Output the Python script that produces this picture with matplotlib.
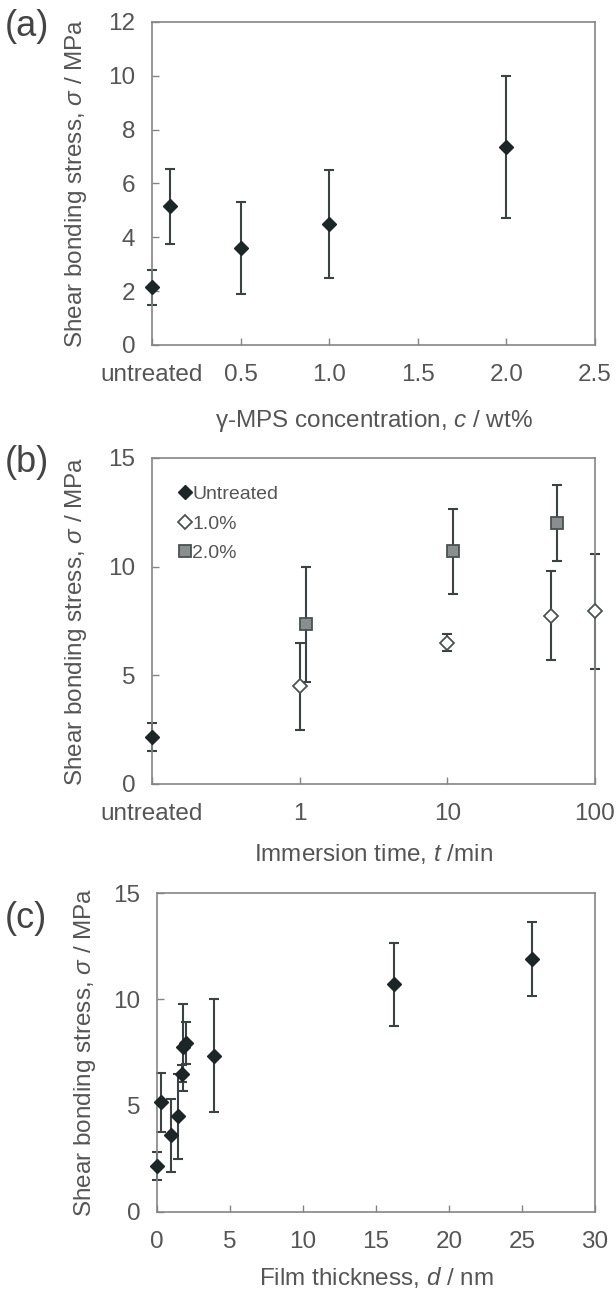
import matplotlib
matplotlib.use("Agg")
import matplotlib.pyplot as plt
from matplotlib.ticker import NullLocator

plt.rcParams["font.family"] = ["Liberation Sans", "DejaVu Sans"]
plt.rcParams["mathtext.fontset"] = "custom"
plt.rcParams["mathtext.rm"] = "Liberation Sans"
plt.rcParams["mathtext.it"] = "Liberation Sans:italic"

# (a) shear bonding stress vs. gamma-MPS concentration
conc_x = [0.0, 0.1, 0.5, 1.0, 2.0]
conc_y = [2.15, 5.15, 3.6, 4.5, 7.35]
conc_err = [0.65, 1.4, 1.7, 2.0, 2.65]
conc_ticks = [0.0, 0.5, 1.0, 1.5, 2.0, 2.5]
conc_ticklabels = ["untreated", "0.5", "1.0", "1.5", "2.0", "2.5"]

# (b) shear bonding stress vs. immersion time
untr_t = [0.1]
untr_y = [2.15]
untr_err = [0.65]
p10_t = [1, 10, 50, 100]
p10_y = [4.5, 6.5, 7.75, 7.95]
p10_err = [2.0, 0.4, 2.05, 2.65]
p20_t = [1.1, 11, 55]
p20_y = [7.35, 10.7, 12.0]
p20_err = [2.65, 1.95, 1.75]
time_ticks = [0.1, 1, 10, 100]
time_ticklabels = ["untreated", "1", "10", "100"]

# (c) shear bonding stress vs. film thickness
thick_x = [0.0, 0.3, 0.95, 1.45, 1.7, 1.8, 2.0, 3.9, 16.2, 25.7]
thick_y = [2.15, 5.15, 3.6, 4.5, 6.5, 7.75, 7.95, 7.35, 10.7, 11.9]
thick_err = [0.65, 1.4, 1.7, 2.0, 0.4, 2.05, 1.0, 2.65, 1.95, 1.75]

TXT = "#555555"
SPINE = "#858585"
MK = "#1d2626"
BAR = "#3a4242"
FS = 17.5

W, H = 616, 1291
fig = plt.figure(figsize=(W / 100, H / 100), dpi=100)


def axes_px(left, right, top, bottom):
    return fig.add_axes([left / W, 1 - bottom / H, (right - left) / W, (bottom - top) / H])


def style(ax):
    for s in ax.spines.values():
        s.set_color(SPINE)
        s.set_linewidth(1.2)
    ax.tick_params(direction="in", length=5, width=1.0, color=SPINE,
                   labelsize=FS, labelcolor=TXT, top=False, right=False)
    ax.tick_params(axis="x", pad=14)
    ax.tick_params(axis="y", pad=12)


def ebar(ax, x, y, e):
    ax.errorbar(x, y, yerr=e, fmt="none", ecolor=BAR, elinewidth=1.5,
                capsize=3.5, capthick=1.5, clip_on=False, zorder=2)


ylab = r"Shear bonding stress, $\sigma$ / MPa"

# ---- panel (a)
ax1 = axes_px(152, 595, 22, 345)
style(ax1)
ebar(ax1, conc_x, conc_y, conc_err)
ax1.plot(conc_x, conc_y, "D", color=MK, ms=7.5, clip_on=False, zorder=3)
ax1.set_xlim(0, 2.5)
ax1.set_ylim(0, 12)
ax1.set_xticks(conc_ticks)
ax1.set_xticklabels(conc_ticklabels)
ax1.set_yticks(range(0, 13, 2))
ax1.set_ylabel(ylab, fontsize=FS, color=TXT)
ax1.yaxis.set_label_coords(-0.142, 0.5)
ax1.set_xlabel(r"γ-MPS concentration, $c$ / wt%", fontsize=FS, color=TXT, va="center")
ax1.xaxis.set_label_coords(0.5, -0.236)

# ---- panel (b)
ax2 = axes_px(152, 595, 458, 784)
style(ax2)
ax2.set_xscale("log")
ebar(ax2, untr_t, untr_y, untr_err)
ebar(ax2, p10_t, p10_y, p10_err)
ebar(ax2, p20_t, p20_y, p20_err)
ax2.plot(untr_t, untr_y, "D", color=MK, ms=7.5, clip_on=False, zorder=3, label="Untreated")
ax2.plot(p10_t, p10_y, "D", mfc="white", mec="#4a5252", mew=1.3, ms=7.5,
         clip_on=False, zorder=3, label="1.0%")
ax2.plot(p20_t, p20_y, "s", mfc="#8a8e8e", mec="#4a5252", mew=1.3, ms=8,
         clip_on=False, zorder=3, label="2.0%")
ax2.set_xlim(0.1, 100)
ax2.set_ylim(0, 15)
ax2.set_xticks(time_ticks)
ax2.set_xticklabels(time_ticklabels)
ax2.xaxis.set_minor_locator(NullLocator())
ax2.set_yticks([0, 5, 10, 15])
ax2.set_ylabel(ylab, fontsize=FS, color=TXT)
ax2.yaxis.set_label_coords(-0.142, 0.5)
ax2.set_xlabel(r"Immersion time, $t$ /min", fontsize=FS, color=TXT, va="center")
ax2.xaxis.set_label_coords(0.5, -0.215)
leg = ax2.legend(loc="upper left", bbox_to_anchor=(0.045, 0.94), frameon=False,
                 fontsize=14, handlelength=0.5, handletextpad=0.15,
                 labelspacing=0.62, borderaxespad=0)
for t in leg.get_texts():
    t.set_color(TXT)

# ---- panel (c)
ax3 = axes_px(157, 595, 893, 1212)
style(ax3)
ebar(ax3, thick_x, thick_y, thick_err)
ax3.plot(thick_x, thick_y, "D", color=MK, ms=7.5, clip_on=False, zorder=3)
ax3.set_xlim(0, 30)
ax3.set_ylim(0, 15)
ax3.set_xticks(range(0, 31, 5))
ax3.set_yticks([0, 5, 10, 15])
ax3.set_ylabel(ylab, fontsize=FS, color=TXT)
ax3.yaxis.set_label_coords(-0.135, 0.5)
ax3.set_xlabel(r"Film thickness, $d$ / nm", fontsize=FS, color=TXT, va="center")
ax3.xaxis.set_label_coords(0.5, -0.204)

# panel letters
for lab, ypx in [("(a)", 26), ("(b)", 462), ("(c)", 918)]:
    fig.text(5 / W, 1 - ypx / H, lab, fontsize=26, color="#444444", va="center", ha="left")

fig.savefig("out.png", dpi=100)
